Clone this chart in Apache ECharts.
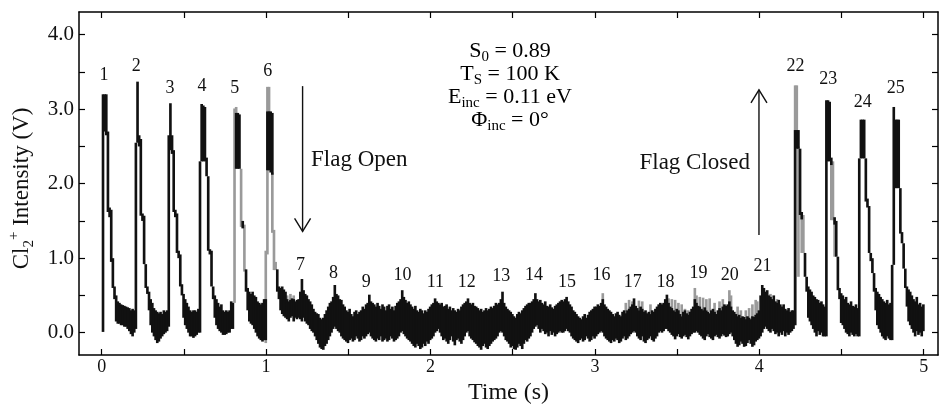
<!DOCTYPE html>
<html>
<head>
<meta charset="utf-8">
<script src="https://cdn.jsdelivr.net/npm/echarts@6/dist/echarts.min.js"></script>
<style>
  html, body { margin: 0; padding: 0; background: #fff; }
  #chart { width: 941px; height: 404px; }
</style>
</head>
<body>
<div id="chart"></div>
<script>
// one value pair per 0.01 s bin, rows of 20 bins = 0.2 s (one pulse period)
var timeStep = 0.01;

var lowV = [
  0.01, 2.70, 2.65, 1.62, 1.55, 0.95, 0.60, 0.45, 0.15, 0.12, 0.12, 0.10, 0.10, 0.08, 0.08, 0.05, 0.02, -0.02, -0.05, 0.00,
  0.05, 2.55, 2.50, 1.57, 1.50, 0.92, 0.60, 0.52, 0.30, 0.10, 0.00, -0.05, -0.10, -0.14, -0.12, -0.08, -0.05, -0.02, 0.00, 0.02,
  0.08, 2.45, 2.40, 1.62, 1.55, 1.07, 1.00, 0.62, 0.50, 0.20, 0.10, 0.05, 0.00, -0.05, -0.05, -0.07, -0.05, -0.03, 0.00, 0.00,
  2.30, 2.30, 2.30, 2.10, 1.10, 1.05, 0.62, 0.45, 0.20, 0.10, 0.05, 0.02, 0.00, -0.03, -0.03, -0.02, 0.00, 0.00, 0.05, 0.05,
  null, 2.20, 2.20, 2.20, null, 1.40, null, 0.55, 0.30, 0.15, 0.12, 0.10, 0.05, 0.00, -0.05, -0.08, -0.10, -0.12, -0.10, -0.10,
  2.18, 2.18, 2.15, 2.12, null, null, 0.55, 0.45, 0.30, 0.25, 0.22, 0.20, 0.18, 0.15, 0.20, 0.22, 0.15, 0.20, 0.18, 0.20,
  0.18, 0.15, 0.20, 0.15, 0.12, 0.10, 0.05, 0.02, 0.00, -0.05, -0.10, -0.15, -0.20, -0.22, -0.23, -0.18, -0.15, -0.10, -0.05, 0.00,
  0.05, 0.08, 0.05, 0.02, 0.00, -0.05, -0.08, -0.10, -0.12, -0.14, -0.10, -0.08, -0.12, -0.10, -0.05, -0.08, -0.12, -0.10, -0.05, -0.08,
  -0.05, -0.02, 0.00, -0.05, -0.08, -0.10, -0.12, -0.08, -0.10, -0.05, -0.12, -0.10, -0.08, -0.12, -0.10, -0.05, -0.08, -0.12, -0.10, -0.08,
  -0.05, 0.00, 0.02, -0.02, -0.05, -0.08, -0.10, -0.12, -0.15, -0.18, -0.20, -0.15, -0.18, -0.22, -0.20, -0.15, -0.18, -0.12, -0.15, -0.10,
  -0.08, -0.05, 0.00, 0.02, 0.05, 0.00, -0.05, -0.10, -0.08, -0.12, -0.15, -0.10, -0.05, -0.12, -0.17, -0.10, -0.08, -0.12, -0.15, -0.10,
  -0.05, 0.00, 0.02, -0.05, -0.08, -0.10, -0.13, -0.15, -0.18, -0.20, -0.23, -0.18, -0.15, -0.20, -0.22, -0.18, -0.15, -0.12, -0.10, -0.08,
  -0.05, 0.00, 0.02, 0.00, -0.05, -0.10, -0.12, -0.15, -0.20, -0.18, -0.22, -0.23, -0.20, -0.15, -0.18, -0.22, -0.15, -0.10, -0.12, -0.08,
  -0.05, 0.00, 0.05, 0.08, 0.10, 0.05, 0.00, 0.05, 0.02, -0.02, 0.00, -0.05, 0.02, -0.03, 0.00, -0.05, -0.02, 0.00, 0.02, 0.00,
  0.00, 0.02, 0.05, 0.02, 0.00, -0.05, -0.08, -0.10, -0.12, -0.14, -0.10, -0.08, -0.12, -0.10, -0.05, -0.08, -0.12, -0.10, -0.05, -0.08,
  -0.05, -0.02, 0.00, 0.02, 0.00, -0.05, -0.08, -0.10, -0.12, -0.14, -0.10, -0.12, -0.08, -0.10, -0.14, -0.12, -0.08, -0.05, -0.10, -0.08,
  -0.05, -0.02, 0.00, 0.02, 0.00, -0.05, -0.08, -0.10, -0.05, -0.12, -0.14, -0.10, -0.08, -0.05, -0.10, -0.12, -0.08, -0.05, 0.00, 0.02,
  0.00, 0.02, 0.05, 0.05, 0.02, 0.00, -0.03, -0.05, -0.09, -0.05, -0.02, -0.06, -0.08, -0.05, -0.03, -0.06, -0.09, -0.05, -0.02, 0.00,
  0.00, 0.02, 0.00, -0.03, -0.05, -0.08, -0.10, -0.05, -0.02, -0.06, -0.08, -0.10, -0.05, -0.03, -0.06, -0.08, -0.05, -0.02, -0.04, -0.06,
  -0.05, -0.02, 0.00, -0.05, -0.10, -0.15, -0.19, -0.17, -0.12, -0.15, -0.19, -0.18, -0.14, -0.10, -0.15, -0.19, -0.17, -0.12, -0.10, -0.08,
  -0.05, 0.00, 0.05, 0.08, 0.05, 0.02, 0.00, 0.05, 0.02, -0.02, 0.00, -0.05, 0.00, -0.03, 0.02, -0.05, 0.00, -0.03, 0.00, 0.02,
  0.05, 0.10, 2.47, 2.47, 1.58, 1.52, null, 0.75, 0.55, 0.20, 0.15, 0.10, 0.05, 0.00, -0.05, 0.02, -0.03, 0.00, -0.05, -0.05,
  -0.05, 2.30, 2.30, 2.25, null, 1.45, 1.02, 0.57, 0.45, 0.13, 0.10, 0.05, 0.00, -0.02, -0.05, 0.00, -0.03, -0.05, -0.02, -0.05,
  -0.05, 2.34, 2.34, 2.34, 1.76, 1.68, 1.07, 0.96, 0.80, 0.55, 0.30, 0.10, 0.05, 0.00, -0.05, -0.08, -0.10, -0.05, -0.08, -0.10,
  -0.10, 0.91, 1.94, 1.94, 1.94, 1.33, 1.20, 0.86, 0.60, 0.35, 0.15, 0.10, 0.05, 0.00, -0.05, 0.02, -0.03, 0.00, -0.05, 0.02
];

var highV = [
  3.20, 3.20, 3.20, 2.70, 1.68, 1.65, 1.00, 0.62, 0.50, 0.42, 0.40, 0.38, 0.37, 0.36, 0.35, 0.34, 0.33, 0.30, 0.32, 0.30,
  2.55, 3.37, 2.65, 2.60, 1.60, 1.57, 0.92, 0.62, 0.55, 0.45, 0.40, 0.33, 0.30, 0.28, 0.26, 0.28, 0.25, 0.30, 0.28, 0.30,
  2.65, 3.08, 2.65, 2.45, 1.65, 1.60, 1.10, 1.05, 0.65, 0.52, 0.45, 0.40, 0.35, 0.30, 0.28, 0.30, 0.30, 0.28, 0.32, 2.30,
  3.07, 3.05, 3.03, 2.35, 2.10, 1.12, 1.10, 0.62, 0.50, 0.45, 0.40, 0.35, 0.38, 0.30, 0.28, 0.30, 0.28, 0.30, 0.42, 0.40,
  null, 2.95, 2.95, 2.93, null, 1.50, null, 0.85, 0.60, 0.55, 0.52, 0.55, 0.50, 0.48, 0.42, 0.40, 0.38, 0.40, 0.45, 0.45,
  2.97, 2.97, 2.97, 2.95, null, null, 0.85, 0.62, 0.60, 0.62, 0.58, 0.55, 0.45, 0.42, 0.44, 0.46, 0.45, 0.42, 0.44, 0.45,
  0.55, 0.72, 0.57, 0.52, 0.50, 0.45, 0.42, 0.38, 0.32, 0.28, 0.26, 0.25, 0.20, 0.18, 0.20, 0.25, 0.30, 0.35, 0.40, 0.42,
  0.48, 0.64, 0.52, 0.50, 0.45, 0.44, 0.38, 0.35, 0.30, 0.28, 0.32, 0.25, 0.22, 0.28, 0.30, 0.25, 0.28, 0.30, 0.35, 0.32,
  0.38, 0.40, 0.51, 0.42, 0.40, 0.38, 0.35, 0.40, 0.36, 0.32, 0.38, 0.35, 0.30, 0.36, 0.38, 0.32, 0.35, 0.30, 0.36, 0.40,
  0.42, 0.45, 0.57, 0.48, 0.44, 0.40, 0.42, 0.38, 0.35, 0.32, 0.36, 0.30, 0.28, 0.32, 0.30, 0.26, 0.30, 0.28, 0.32, 0.35,
  0.38, 0.40, 0.46, 0.42, 0.40, 0.38, 0.40, 0.35, 0.36, 0.38, 0.32, 0.35, 0.30, 0.33, 0.30, 0.28, 0.32, 0.30, 0.35, 0.38,
  0.40, 0.42, 0.46, 0.40, 0.38, 0.40, 0.36, 0.35, 0.33, 0.30, 0.32, 0.28, 0.30, 0.33, 0.30, 0.32, 0.35, 0.33, 0.36, 0.40,
  0.38, 0.40, 0.45, 0.55, 0.40, 0.35, 0.32, 0.30, 0.28, 0.25, 0.22, 0.20, 0.25, 0.28, 0.26, 0.30, 0.33, 0.36, 0.38, 0.40,
  0.40, 0.42, 0.45, 0.53, 0.45, 0.42, 0.44, 0.40, 0.38, 0.42, 0.36, 0.35, 0.38, 0.34, 0.32, 0.36, 0.38, 0.40, 0.42, 0.44,
  0.42, 0.45, 0.48, 0.42, 0.38, 0.35, 0.30, 0.28, 0.25, 0.22, 0.20, 0.18, 0.22, 0.25, 0.20, 0.24, 0.28, 0.30, 0.32, 0.35,
  0.35, 0.38, 0.36, 0.40, 0.45, 0.38, 0.35, 0.32, 0.30, 0.28, 0.25, 0.22, 0.26, 0.28, 0.24, 0.22, 0.28, 0.30, 0.26, 0.30,
  0.32, 0.35, 0.38, 0.46, 0.36, 0.33, 0.30, 0.35, 0.32, 0.28, 0.30, 0.26, 0.28, 0.25, 0.30, 0.28, 0.32, 0.35, 0.38, 0.40,
  0.38, 0.40, 0.45, 0.51, 0.40, 0.35, 0.33, 0.30, 0.28, 0.32, 0.30, 0.25, 0.22, 0.28, 0.30, 0.26, 0.24, 0.28, 0.32, 0.35,
  0.45, 0.40, 0.36, 0.35, 0.32, 0.30, 0.34, 0.30, 0.28, 0.26, 0.30, 0.32, 0.28, 0.25, 0.30, 0.33, 0.30, 0.35, 0.38, 0.36,
  0.38, 0.42, 0.35, 0.30, 0.28, 0.25, 0.22, 0.24, 0.20, 0.22, 0.21, 0.18, 0.22, 0.20, 0.18, 0.22, 0.21, 0.24, 0.26, 0.30,
  0.50, 0.64, 0.60, 0.55, 0.57, 0.50, 0.48, 0.45, 0.50, 0.42, 0.40, 0.44, 0.38, 0.35, 0.38, 0.32, 0.30, 0.33, 0.28, 0.30,
  0.30, 2.72, 2.72, 2.72, 2.47, 1.62, null, 1.07, 0.75, 0.62, 0.58, 0.55, 0.50, 0.48, 0.45, 0.44, 0.40, 0.42, 0.38, 0.35,
  3.12, 3.12, 3.10, 2.35, null, 1.55, 1.50, 1.02, 0.60, 0.53, 0.50, 0.45, 0.48, 0.40, 0.38, 0.42, 0.36, 0.35, 0.38, 0.33,
  2.34, 2.86, 2.86, 2.86, 2.34, 1.80, 1.70, 1.07, 1.00, 0.80, 0.60, 0.55, 0.52, 0.48, 0.45, 0.42, 0.40, 0.44, 0.38, 0.40,
  0.91, 3.03, 2.86, 2.86, 2.86, 1.94, 1.35, 1.20, 0.86, 0.62, 0.58, 0.55, 0.50, 0.45, 0.42, 0.48, 0.38, 0.40, 0.35, 0.38
];

// grey trace segments: [time, low, high]
var greyBits = [
  [0.80, 0.40, 3.01], [0.81, 2.90, 3.03], [0.84, 1.42, 2.20], [0.86, 0.82, 1.45],
  [0.99, -0.14, 1.10], [1.00, 1.05, 3.30], [1.01, 2.90, 3.30], [1.03, 1.34, 2.15], [1.04, 0.84, 1.38], [1.05, 0.84, 0.95],
  [1.12, 0.35, 0.50], [1.14, 0.38, 0.52], [1.16, 0.35, 0.50],
  [3.04, 0.30, 0.53], [3.18, 0.25, 0.40], [3.20, 0.30, 0.44], [3.22, 0.30, 0.42], [3.26, 0.30, 0.43], [3.28, 0.25, 0.42], [3.33, 0.25, 0.38],
  [3.44, 0.30, 0.46], [3.46, 0.28, 0.45], [3.48, 0.25, 0.44], [3.50, 0.25, 0.40], [3.52, 0.22, 0.38], [3.54, 0.20, 0.32], [3.56, 0.22, 0.30],
  [3.60, 0.30, 0.60], [3.61, 0.30, 0.50], [3.63, 0.30, 0.48], [3.65, 0.28, 0.47], [3.67, 0.30, 0.45], [3.69, 0.28, 0.46], [3.72, 0.25, 0.40], [3.75, 0.28, 0.42], [3.77, 0.30, 0.45],
  [3.81, 0.30, 0.57], [3.82, 0.30, 0.50], [3.86, 0.20, 0.35], [3.88, 0.20, 0.30], [3.91, 0.15, 0.30], [3.93, 0.15, 0.33], [3.95, 0.20, 0.38], [3.97, 0.20, 0.44], [3.98, 0.20, 0.42],
  [4.04, 0.30, 0.50], [4.06, 0.30, 0.52], [4.10, 0.25, 0.45],
  [4.21, 0.10, 3.32], [4.22, 2.70, 3.32], [4.23, 0.75, 2.50], [4.25, 1.07, 1.58], [4.26, 1.07, 1.58],
  [4.43, 1.51, 2.30], [4.44, 1.51, 2.30], [4.45, 1.02, 1.51]
];

// pulse numbers and where they sit
var peakNames = ['1', '2', '3', '4', '5', '6', '7', '8', '9', '10', '11', '12', '13',
  '14', '15', '16', '17', '18', '19', '20', '21', '22', '23', '24', '25'];
var peakNameT = [0.014, 0.21, 0.415, 0.61, 0.81, 1.01, 1.21, 1.41, 1.61, 1.83, 2.03, 2.22, 2.43,
  2.63, 2.83, 3.04, 3.23, 3.43, 3.63, 3.82, 4.02, 4.22, 4.42, 4.63, 4.83];
var peakNameV = [3.46, 3.58, 3.28, 3.31, 3.28, 3.51, 0.91, 0.80, 0.68, 0.77, 0.67, 0.67, 0.76,
  0.77, 0.67, 0.77, 0.67, 0.67, 0.80, 0.77, 0.89, 3.58, 3.40, 3.09, 3.28];

var xTicks = [0, 0.5, 1, 1.5, 2, 2.5, 3, 3.5, 4, 4.5, 5];
var xLabels = [0, 1, 2, 3, 4, 5];
var yTicks = [0, 0.5, 1, 1.5, 2, 2.5, 3, 3.5, 4];
var yLabels = [0, 1, 2, 3, 4];

// flag arrows: time, start value, end value (head at end)
var arrowT = [1.222, 3.998];
var arrowFrom = [3.31, 1.31];
var arrowTo = [1.36, 3.26];

var serif = 'Liberation Serif';

var traceData = [];
for (var i = 0; i < lowV.length; i++) {
    if (lowV[i] === null || highV[i] === null) continue;
    traceData.push([+(i * timeStep).toFixed(2), lowV[i], highV[i]]);
}

function bandItem(color) {
    return function (params, api) {
        var t = api.value(0);
        var a = api.coord([t, api.value(2)]);
        var b = api.coord([t + timeStep, api.value(1)]);
        return {
            type: 'rect',
            shape: { x: a[0], y: a[1], width: b[0] - a[0] + 1, height: Math.max(b[1] - a[1], 1.4) },
            style: { fill: color }
        };
    };
}

function frameAxis(pos, isX, ticks, labels) {
    var ax = {
        type: 'value',
        position: pos,
        min: isX ? -0.138 : -0.30,
        max: isX ? 5.087 : 4.305,
        axisLine: { show: true, onZero: false, lineStyle: { color: '#000', width: 1.5 } },
        axisTick: { show: true, inside: true, length: 6, customValues: ticks, lineStyle: { color: '#000', width: 1.2 } },
        axisLabel: { show: false },
        splitLine: { show: false }
    };
    if (labels) {
        ax.axisLabel = {
            show: true, customValues: labels, color: '#111', fontFamily: serif,
            fontSize: isX ? 18 : 21, margin: isX ? 3 : 5,
            formatter: isX ? function (v) { return String(v); } : function (v) { return v.toFixed(1); }
        };
    }
    return ax;
}

var xBottom = frameAxis('bottom', true, xTicks, xLabels);
xBottom.name = 'Time (s)';
xBottom.nameLocation = 'middle';
xBottom.nameGap = 26;
xBottom.nameTextStyle = { color: '#111', fontFamily: serif, fontSize: 24 };

var yLeft = frameAxis('left', false, yTicks, yLabels);
yLeft.name = '{m|Cl}{s|2}{p|+}{m| Intensity (V)}';
yLeft.nameLocation = 'middle';
yLeft.nameGap = 41;
yLeft.nameTextStyle = {
    color: '#111', fontFamily: serif, fontSize: 23,
    padding: [0, 10, 0, 0],
    rich: {
        m: { fontFamily: serif, fontSize: 23, lineHeight: 30, color: '#111' },
        s: { fontFamily: serif, fontSize: 15, lineHeight: 15, verticalAlign: 'bottom', color: '#111' },
        p: { fontFamily: serif, fontSize: 15, lineHeight: 15, verticalAlign: 'top', color: '#111' }
    }
};

var chart = echarts.init(document.getElementById('chart'));

chart.setOption({
    animation: false,
    grid: { left: 79, right: 3, top: 12, bottom: 49, outerBoundsMode: 'none' },
    xAxis: [xBottom, frameAxis('top', true, xTicks, null)],
    yAxis: [yLeft, frameAxis('right', false, yTicks, null)],
    series: [
        {
            type: 'custom', name: 'grey', clip: true,
            renderItem: bandItem('#9a9a9a'),
            encode: { x: 0, y: [1, 2] },
            data: greyBits
        },
        {
            type: 'custom', name: 'signal', clip: true,
            renderItem: bandItem('#111'),
            encode: { x: 0, y: [1, 2] },
            data: traceData
        },
        {
            type: 'scatter', symbolSize: 0, silent: true,
            itemStyle: { opacity: 1 },
            data: peakNameT.map(function (t, k) { return [t, peakNameV[k]]; }),
            label: {
                show: true, position: 'inside', color: '#111', fontFamily: serif, fontSize: 18,
                formatter: function (p) { return peakNames[p.dataIndex]; }
            }
        }
    ]
});

// arrows and text annotations
var gfx = [];
for (var k = 0; k < arrowT.length; k++) {
    var p0 = chart.convertToPixel({ xAxisIndex: 0, yAxisIndex: 0 }, [arrowT[k], arrowFrom[k]]);
    var p1 = chart.convertToPixel({ xAxisIndex: 0, yAxisIndex: 0 }, [arrowT[k], arrowTo[k]]);
    var dir = p1[1] > p0[1] ? 1 : -1;
    gfx.push({ type: 'line', shape: { x1: p0[0], y1: p0[1], x2: p1[0], y2: p1[1] }, style: { stroke: '#111', lineWidth: 1.4 } });
    gfx.push({ type: 'polyline', shape: { points: [[p1[0] - 8, p1[1] - dir * 13], [p1[0], p1[1]], [p1[0] + 8, p1[1] - dir * 13]] }, style: { stroke: '#111', lineWidth: 1.4, fill: null } });
}

gfx.push({ type: 'text', x: 311, y: 160, style: { text: 'Flag Open', fontFamily: serif, fontSize: 23, fill: '#111', verticalAlign: 'middle' } });
gfx.push({ type: 'text', x: 750, y: 163, style: { text: 'Flag Closed', fontFamily: serif, fontSize: 23, fill: '#111', align: 'right', verticalAlign: 'middle' } });

var infoRich = {
    m: { fontFamily: serif, fontSize: 22, lineHeight: 28, color: '#111' },
    s: { fontFamily: serif, fontSize: 15, lineHeight: 15, verticalAlign: 'bottom', color: '#111' }
};
var infoLines = [
    '{m|S}{s|0}{m| = 0.89}',
    '{m|T}{s|S}{m| = 100 K}',
    '{m|E}{s|inc}{m| = 0.11 eV}',
    '{m|\u03A6}{s|inc}{m| = 0\u00B0}'
];
var infoY = [51, 74, 97, 120];
infoLines.forEach(function (txt, n) {
    gfx.push({ type: 'text', x: 510, y: infoY[n], style: { text: txt, rich: infoRich, align: 'center', verticalAlign: 'middle' } });
});

chart.setOption({ graphic: gfx });
</script>
</body>
</html>
